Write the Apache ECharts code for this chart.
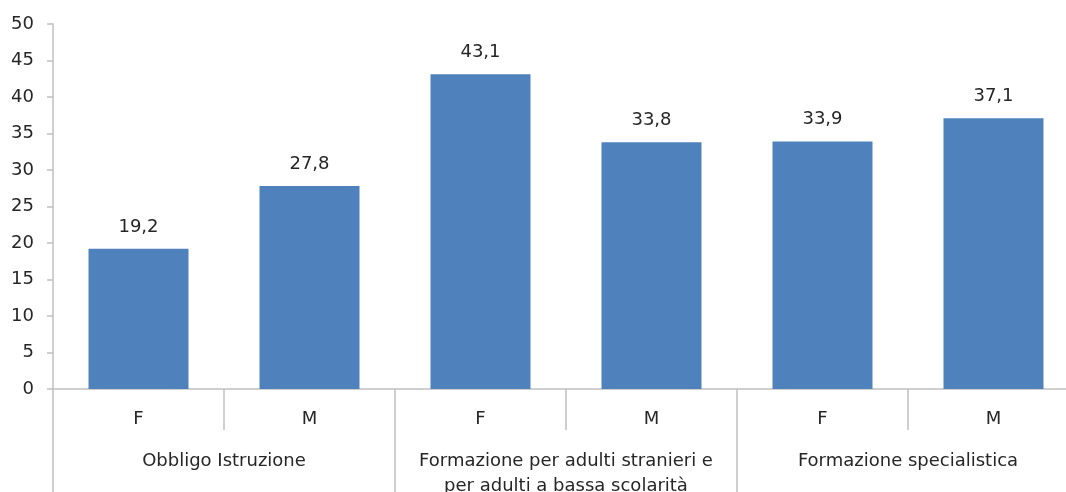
<!DOCTYPE html>
<html><head><meta charset="utf-8">
<script src="https://cdn.jsdelivr.net/npm/echarts@6/dist/echarts.min.js"></script>
<style>html,body{margin:0;padding:0;background:#fff}#c{width:1066px;height:492px}</style>
</head><body><div id="c"></div>
<script>
const sexes = ['F','M','F','M','F','M'];
const groups = ['Obbligo Istruzione','Formazione per adulti stranieri e\nper adulti a bassa scolarità','Formazione specialistica'];
const values = [19.2, 27.8, 43.1, 33.8, 33.9, 37.1];
const yMin = 0, yMax = 50, yStep = 5;

const FONT = 'DejaVu Sans';
const TXT = '#262626';
const AX = '#c0c0c0';
const chart = echarts.init(document.getElementById('c'), null, {renderer:'canvas'});
chart.setOption({
  animation:false,
  grid:{left:53, top:24, width:1026, height:365, containLabel:false, outerBoundsMode:'none'},
  xAxis:[
    {type:'category', data:sexes, position:'bottom',
     axisLine:{show:true, lineStyle:{color:AX, width:1.5}},
     axisTick:{show:true, interval:0, length:41, lineStyle:{color:AX, width:1.5}},
     axisLabel:{interval:0, color:TXT, fontFamily:FONT, fontSize:18, margin:21}},
    {type:'category', data:groups, position:'bottom', offset:0,
     axisLine:{show:false},
     axisTick:{show:true, interval:0, length:110, lineStyle:{color:AX, width:1.5}},
     axisLabel:{interval:0, color:TXT, fontFamily:FONT, fontSize:18, margin:60, verticalAlign:'top', lineHeight:25}}
  ],
  yAxis:{type:'value', min:yMin, max:yMax, interval:yStep,
    axisLine:{show:true, lineStyle:{color:AX, width:1.5}},
    axisTick:{show:true, length:6, lineStyle:{color:AX, width:1.5}},
    splitLine:{show:false},
    axisLabel:{color:TXT, fontFamily:FONT, fontSize:18, margin:19}},
  series:[{type:'bar', xAxisIndex:0, data:values, barWidth:100,
    itemStyle:{color:'#4F81BD'},
    label:{show:true, position:'top', distance:13, color:TXT, fontFamily:FONT, fontSize:18,
      formatter:p=>String(p.value).replace('.',',')}}]
});
</script></body></html>
